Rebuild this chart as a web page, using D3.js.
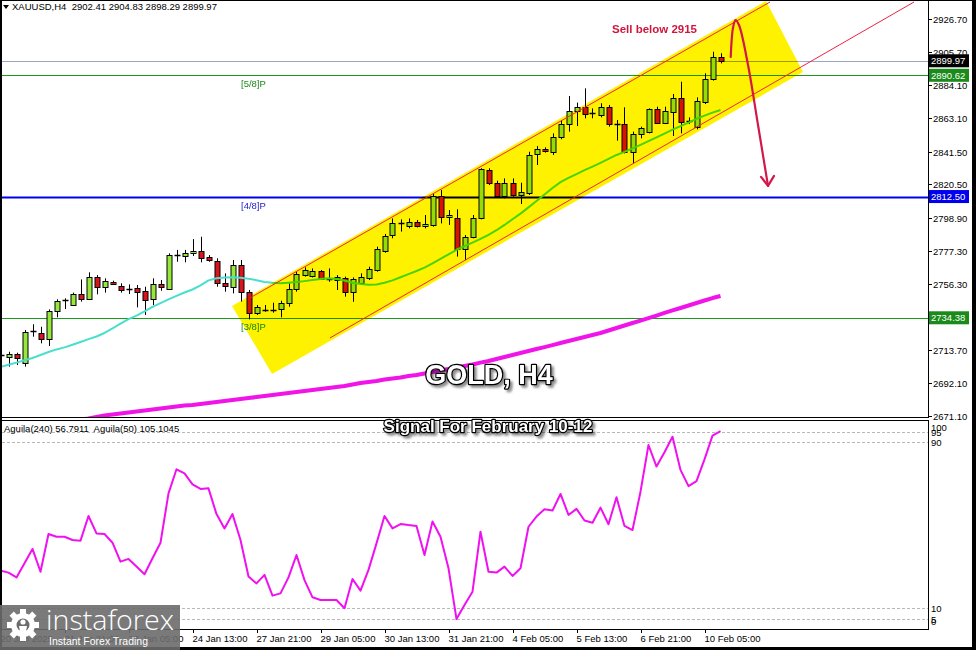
<!DOCTYPE html>
<html><head><meta charset="utf-8">
<script src="https://cdn.jsdelivr.net/npm/d3@7"></script>
<style>html,body{margin:0;padding:0;background:#000;overflow:hidden}svg{display:block;font-family:"Liberation Sans",Arial,sans-serif}</style>
</head><body><svg id="c" width="976" height="650"></svg>
<script>
// ---------- DATA ----------
const opens  = [2710.2,2708.9,2710.8,2705.4,2725.0,2724.4,2720.5,2738.7,2745.6,2742.4,2749.5,2746.7,2760.4,2754.0,2757.6,2754.9,2752.9,2753.4,2751.6,2746.3,2756.1,2752.7,2774.5,2774.2,2775.9,2777.4,2773.5,2771.0,2757.0,2754.4,2768.4,2751.2,2737.2,2739.2,2739.4,2739.8,2743.7,2752.7,2761.9,2761.5,2764.5,2759.3,2758.7,2759.8,2750.8,2757.0,2759.8,2765.1,2777.6,2787.7,2795.4,2793.7,2796.3,2793.5,2794.2,2812.8,2799.1,2798.4,2778.5,2786.6,2798.4,2829.6,2821.0,2812.8,2821.0,2813.5,2814.6,2839.7,2843.1,2841.4,2850.6,2859.0,2867.6,2870.4,2866.4,2865.0,2870.4,2859.0,2859.0,2841.4,2852.6,2854.3,2868.7,2860.1,2867.2,2875.8,2861.4,2857.1,2873.6,2888.0,2902.41];
const highs  = [2712.0,2712.5,2711.9,2726.5,2730.2,2728.6,2739.8,2746.3,2746.9,2750.6,2759.1,2763.7,2761.9,2759.8,2758.3,2756.6,2755.9,2755.5,2754.4,2759.8,2758.7,2775.9,2778.1,2778.1,2785.1,2786.6,2774.8,2772.7,2763.0,2771.6,2771.6,2752.3,2742.6,2742.6,2744.1,2745.4,2756.6,2764.1,2766.9,2766.2,2765.1,2766.2,2761.9,2760.9,2760.4,2763.0,2767.3,2780.2,2788.4,2798.4,2797.8,2798.4,2797.4,2800.6,2814.6,2816.7,2803.8,2804.3,2787.7,2800.6,2830.7,2830.7,2822.7,2824.2,2824.2,2821.4,2841.4,2845.0,2844.2,2853.2,2861.8,2877.3,2873.0,2882.2,2869.3,2872.6,2871.5,2861.8,2870.0,2854.3,2857.5,2869.3,2870.4,2870.4,2878.6,2886.5,2863.5,2876.4,2891.9,2905.8,2904.83];
const lows   = [2707.5,2702.9,2703.9,2702.9,2722.2,2717.9,2716.2,2734.7,2740.0,2742.0,2744.8,2745.8,2749.5,2750.6,2755.5,2750.6,2749.7,2741.1,2736.2,2742.6,2751.8,2752.3,2770.5,2770.1,2774.2,2770.1,2770.5,2754.4,2751.2,2750.1,2744.8,2733.4,2736.2,2738.3,2737.7,2734.7,2741.5,2751.2,2760.9,2760.4,2758.7,2757.6,2752.3,2748.0,2744.7,2756.1,2758.7,2764.1,2776.3,2785.6,2789.9,2792.0,2792.6,2792.0,2793.1,2795.2,2794.2,2773.8,2771.6,2785.6,2797.8,2819.9,2812.0,2811.3,2812.4,2807.7,2813.5,2832.8,2840.8,2839.3,2849.4,2854.3,2857.9,2862.9,2862.9,2863.5,2857.5,2848.5,2840.3,2833.9,2850.0,2853.2,2859.2,2859.2,2851.5,2853.2,2859.2,2855.8,2872.1,2887.2,2898.29];
const closes = [2710.3,2711.0,2708.2,2725.4,2725.8,2720.5,2738.7,2745.2,2745.8,2749.7,2746.7,2760.4,2754.0,2757.9,2756.1,2752.3,2753.1,2751.2,2745.8,2756.1,2754.4,2774.8,2774.8,2776.3,2777.4,2773.1,2771.4,2756.6,2754.9,2768.4,2751.2,2737.2,2741.1,2739.4,2739.2,2744.1,2752.7,2762.6,2765.1,2764.7,2759.1,2759.0,2760.4,2751.2,2759.1,2760.4,2765.6,2778.5,2787.1,2795.7,2795.1,2796.3,2793.5,2794.8,2812.8,2799.1,2800.6,2778.5,2786.6,2798.4,2830.0,2821.0,2812.8,2821.0,2813.5,2815.2,2839.3,2843.1,2841.8,2850.6,2859.2,2867.6,2870.4,2865.7,2866.5,2870.4,2859.0,2858.8,2841.4,2852.6,2856.4,2868.7,2860.1,2867.6,2875.8,2860.7,2861.2,2874.0,2888.0,2902.2,2899.97];
// fast moving average (turquoise)
const maFast = [2702.7,2704.1,2705.5,2707.0,2708.5,2710.4,2712.3,2714.0,2715.3,2717.0,2718.8,2720.6,2722.3,2724.6,2727.5,2730.6,2733.5,2735.8,2738.5,2741.4,2743.8,2746.2,2748.5,2750.7,2752.6,2755.3,2758.5,2759.8,2760.4,2760.5,2760.2,2759.5,2758.6,2757.5,2756.9,2756.7,2757.0,2757.4,2758.0,2758.7,2759.4,2759.8,2759.4,2758.4,2757.0,2756.2,2755.6,2755.8,2757.0,2758.5,2760.5,2762.5,2764.5,2766.7,2769.4,2772.3,2775.3,2778.2,2780.5,2782.8,2785.2,2787.8,2790.8,2794.2,2797.9,2801.5,2805.5,2809.6,2813.8,2818.0,2821.8,2824.5,2827.0,2829.5,2831.8,2834.2,2836.8,2839.3,2841.3,2843.5,2845.8,2848.2,2850.6,2853.1,2855.6,2857.9,2860.1,2862.6,2864.6,2866.6,2868.3];
// slow moving average (magenta), starts at candle 8
const maSlowStart = 8;
const maSlow = [2667.9,2668.5,2668.8,2669.5,2670.4,2671.4,2672.1,2672.7,2673.3,2674.0,2674.6,2675.3,2675.9,2676.6,2677.2,2677.9,2678.2,2678.8,2679.5,2680.1,2680.8,2681.4,2682.1,2682.7,2683.3,2684.0,2684.6,2685.3,2685.9,2686.6,2687.2,2687.9,2688.5,2689.1,2689.8,2690.4,2691.4,2692.4,2693.0,2693.7,2694.6,2695.3,2695.9,2696.9,2697.5,2698.5,2699.4,2700.4,2701.4,2702.3,2703.3,2704.3,2705.5,2706.5,2707.8,2709.1,2710.4,2711.7,2713.0,2714.3,2715.5,2716.8,2718.1,2719.4,2720.7,2722.0,2723.3,2724.6,2726.2,2727.8,2729.4,2731.0,2732.6,2734.2,2735.8,2737.5,2739.1,2740.7,2742.3,2743.9,2745.5,2747.1,2748.4];
// Aguila oscillator
const aguila = [28.1,27.2,24.9,31.7,38.6,27.6,45.8,44.5,44.5,42.9,42.6,54.5,46.1,45.8,41.6,32.5,33.8,30.1,26.4,34.1,41.6,65.4,77.0,75.0,69.7,67.5,67.8,55.4,48.5,55.4,42.9,25.3,22.0,26.1,16.1,17.2,24.9,35.7,23.6,15.3,14.0,14.0,14.0,10.0,24.1,18.5,28.5,41.3,54.5,48.5,50.6,50.1,49.7,35.7,51.8,44.5,29.3,4.8,11.6,18.0,46.9,27.6,27.2,30.1,25.6,29.3,49.3,54.2,57.7,57.1,65.1,55.0,57.9,52.3,51.2,58.5,50.5,63.5,49.7,47.7,66.2,88.7,78.3,85.2,92.7,76.7,68.9,71.3,81.8,93.2,95.4];
// axes
const priceTicks = [2926.70,2905.70,2884.10,2863.10,2841.50,2820.50,2798.90,2777.30,2756.30,2713.70,2692.10,2671.10];
const indTicks = [100,95,90,10,5,0];
const indLevels = [95,90,10,5];
const timeTickIdx = [0,8,16,24,32,40,48,56,64,72,80,88];
const timeTickLabels = ["20 Jan 2025","21 Jan 21:00","23 Jan 05:00","24 Jan 13:00","27 Jan 21:00","29 Jan 05:00","30 Jan 13:00","31 Jan 21:00","4 Feb 05:00","5 Feb 13:00","6 Feb 21:00","10 Feb 05:00"];
// levels
const lastPrice = 2899.97;
const levelValues = [2890.62, 2812.50, 2734.38];
const levelNames = ["[5/8]P","[4/8]P","[3/8]P"];
// channel (candle index, price)
const channelUpper = [[31.19,2747.2],[96.19,2937.85]];
const channelLower = [[41.19,2721.4],[114.19,2937.85]];
const channelBand = [[28.94,2742.0],[95.69,2938.5],[100.31,2892.7],[33.94,2698.2]];
const arrowPath = [[91.28,2902.4],[91.56,2921.1],[91.88,2926.2],[92.31,2923.0],[93.44,2897.3],[94.69,2858.6],[95.94,2819.4]];
const headerText = "XAUUSD,H4  2902.41 2904.83 2898.29 2899.97";
const indText = "Aguila(240) 56.7911  Aguila(50) 105.1045";

// ---------- SCALES ----------
const svg = d3.select("#c");
const plotL = 2, plotR = 928, mainT = 1, mainB = 417, indT = 420, indB = 629;
const x = d3.scaleLinear().domain([0, 115]).range([0.5, 920.5]);
const y = d3.scaleLinear().domain([2671.1, 2926.7]).range([416, 19.3]);
const yi = d3.scaleLinear().domain([0, 100]).range([629.05, 421.55]);
const px = i => Math.round(x(i)) + 0.5;

// background
svg.append("rect").attr("width", 976).attr("height", 650).attr("fill", "#000");
svg.append("rect").attr("x", 2).attr("y", 1).attr("width", 970).attr("height", 646).attr("fill", "#fff");

const defs = svg.append("defs");
defs.append("clipPath").attr("id", "cm").append("rect").attr("x", plotL).attr("y", mainT).attr("width", plotR - plotL).attr("height", mainB - mainT);
defs.append("clipPath").attr("id", "ci").append("rect").attr("x", plotL).attr("y", indT).attr("width", plotR - plotL).attr("height", indB - indT);
const sh = defs.append("filter").attr("id", "sh").attr("x", "-10%").attr("y", "-40%").attr("width", "125%").attr("height", "190%");
sh.append("feDropShadow").attr("dx", 2.5).attr("dy", 2.5).attr("stdDeviation", 1.3).attr("flood-color", "#000").attr("flood-opacity", 0.45);

const main = svg.append("g").attr("clip-path", "url(#cm)");

// horizontal lines
main.append("line").attr("x1", plotL).attr("x2", plotR).attr("y1", Math.round(y(lastPrice)) + 0.5).attr("y2", Math.round(y(lastPrice)) + 0.5)
  .attr("stroke", "#9aa6cc").attr("stroke-width", 1);
const levelColors = ["#1a9a1a", "#0000ee", "#1a9a1a"];
const levelWidths = [1, 2, 1];
levelValues.forEach((v, k) => {
  const yy = Math.round(y(v)) + 0.5;
  main.append("line").attr("x1", plotL).attr("x2", plotR).attr("y1", yy).attr("y2", yy)
    .attr("stroke", levelColors[k]).attr("stroke-width", levelWidths[k]);
  main.append("text").attr("x", 241).attr("y", yy + 11).attr("font-size", 9.5)
    .attr("fill", k === 1 ? "#2222cc" : "#1a8a1a").text(levelNames[k]);
});

// slow MA
const lineP = d3.line().x(d => x(d[0])).y(d => y(d[1]));
main.append("path").datum(maSlow.map((v, k) => [k + maSlowStart, v])).attr("d", lineP)
  .attr("fill", "none").attr("stroke", "#f014e8").attr("stroke-width", 4).attr("stroke-linejoin", "round");

// candles
const cg = main.append("g");
opens.forEach((o, i) => {
  const c = closes[i], cx = px(i);
  cg.append("line").attr("x1", cx).attr("x2", cx).attr("y1", y(highs[i])).attr("y2", y(lows[i])).attr("stroke", "#000").attr("stroke-width", 1);
  const top = Math.round(y(Math.max(o, c))) + 0.5, bot = Math.round(y(Math.min(o, c))) + 0.5;
  if (bot - top < 1.5) {
    cg.append("line").attr("x1", cx - 3).attr("x2", cx + 3).attr("y1", top).attr("y2", top).attr("stroke", "#000").attr("stroke-width", 1.5);
  } else {
    cg.append("rect").attr("x", cx - 2.5).attr("y", top).attr("width", 5).attr("height", bot - top)
      .attr("fill", c >= o ? "#96e83c" : "#d8141c").attr("stroke", "#000").attr("stroke-width", 1);
  }
});

// fast MA
main.append("path").datum(maFast.map((v, k) => [k, v])).attr("d", lineP)
  .attr("fill", "none").attr("stroke", "#48e0cc").attr("stroke-width", 2).attr("stroke-linejoin", "round");

// channel band (multiply, like a translucent marker)
main.append("path").datum(channelBand).attr("d", d3.line().x(d => x(d[0])).y(d => y(d[1])).curve(d3.curveLinearClosed))
  .attr("fill", "#fff200").style("mix-blend-mode", "multiply");
[channelUpper, channelLower].forEach(seg => {
  main.append("path").datum(seg).attr("d", lineP).attr("fill", "none").attr("stroke", "#ee2244").attr("stroke-width", 1);
});

// arrows
const arrowColor = "#d4174a";
main.append("path").datum(arrowPath).attr("d", d3.line().x(d => x(d[0])).y(d => y(d[1])).curve(d3.curveCatmullRom.alpha(0.5)))
  .attr("fill", "none").attr("stroke", arrowColor).attr("stroke-width", 2.2).attr("stroke-linecap", "round");
{
  const tip = arrowPath[arrowPath.length - 1];
  const tx = x(tip[0]), ty = y(tip[1]);
  main.append("path").attr("d", `M${tx - 7},${ty - 9}L${tx},${ty}L${tx + 6},${ty - 10}`)
    .attr("fill", "none").attr("stroke", arrowColor).attr("stroke-width", 2.2).attr("stroke-linecap", "round").attr("stroke-linejoin", "round");
}
main.append("text").attr("x", 612).attr("y", 33).attr("font-size", 11.5).attr("font-weight", "bold")
  .attr("fill", "#d0163e").text("Sell below 2915");

// frame of main panel
svg.append("line").attr("x1", plotR + 0.5).attr("x2", plotR + 0.5).attr("y1", 0).attr("y2", mainB + 1).attr("stroke", "#000");
svg.append("line").attr("x1", plotL).attr("x2", plotR + 1).attr("y1", mainB + 0.5).attr("y2", mainB + 0.5).attr("stroke", "#000");

// price axis
priceTicks.forEach(v => {
  const yy = Math.round(y(v)) + 0.5;
  svg.append("line").attr("x1", plotR).attr("x2", plotR + 4).attr("y1", yy).attr("y2", yy).attr("stroke", "#000");
  svg.append("text").attr("x", 933).attr("y", yy + 3.5).attr("font-size", 9.5).attr("fill", "#000").text(v.toFixed(2));
});
const tagBoxes = [[lastPrice, "#000"], [levelValues[0], "#1a8a1a"], [levelValues[1], "#0000ee"], [levelValues[2], "#1a8a1a"]];
tagBoxes.forEach(([v, col]) => {
  const yy = y(v);
  svg.append("rect").attr("x", 929).attr("y", yy - 6.5).attr("width", 40).attr("height", 13).attr("fill", col);
  svg.append("text").attr("x", 931).attr("y", yy + 3.5).attr("font-size", 9.5).attr("fill", "#fff").text(v.toFixed(2));
});

// header
svg.append("path").attr("d", "M3,5L9,5L6,9Z").attr("fill", "#000");
svg.append("text").attr("x", 12).attr("y", 10).attr("font-size", 9.5).attr("fill", "#000").attr("xml:space", "preserve").text(headerText);

// indicator panel
const ind = svg.append("g");
ind.append("rect").attr("x", plotL - 0.5).attr("y", indT + 0.5).attr("width", plotR - plotL + 1).attr("height", indB - indT).attr("fill", "none").attr("stroke", "#000");
const indG = ind.append("g").attr("clip-path", "url(#ci)");
indLevels.forEach(v => {
  const yy = Math.round(yi(v)) + 0.5;
  indG.append("line").attr("x1", plotL).attr("x2", plotR).attr("y1", yy).attr("y2", yy)
    .attr("stroke", "#b8b8b8").attr("stroke-dasharray", "3,2");
});
indG.append("path").datum(aguila.map((v, k) => [k, v]))
  .attr("d", d3.line().x(d => x(d[0])).y(d => yi(d[1])))
  .attr("fill", "none").attr("stroke", "#f010f0").attr("stroke-width", 2).attr("stroke-linejoin", "round");
indTicks.forEach(v => {
  const yy = Math.max(427, Math.min(621, yi(v) + 0.5));
  svg.append("text").attr("x", 931).attr("y", yy + 3.5).attr("font-size", 9.5).attr("fill", "#000").text(v);
});
svg.append("text").attr("x", 4).attr("y", 432).attr("font-size", 9.5).attr("fill", "#000").attr("xml:space", "preserve").text(indText);

// time axis
timeTickIdx.forEach((i, k) => {
  const xx = px(i);
  svg.append("line").attr("x1", xx).attr("x2", xx).attr("y1", indB).attr("y2", indB + 4).attr("stroke", "#000");
  svg.append("text").attr("x", xx - 1).attr("y", 642).attr("font-size", 9.5).attr("fill", "#000").text(timeTickLabels[k]);
});

// titles
function outlined(t, xx, yy, size) {
  svg.append("text").attr("x", xx).attr("y", yy).attr("font-size", size).attr("font-weight", "bold")
    .attr("text-anchor", "middle").attr("fill", "#fff").attr("stroke", "#000").attr("stroke-width", 2.4)
    .attr("paint-order", "stroke").attr("stroke-linejoin", "round").attr("filter", "url(#sh)").text(t);
}
outlined("GOLD, H4", 489, 384, 27);
outlined("Signal For February 10-12", 488, 432, 17);

// logo
const logo = svg.append("g");
logo.append("rect").attr("x", 0).attr("y", 605).attr("width", 180).attr("height", 45).attr("fill", "#6c6c6c").attr("opacity", 0.9);
const gear = logo.append("g").attr("transform", "translate(23,625)");
for (let a = 0; a < 8; a++) {
  gear.append("rect").attr("x", -3).attr("y", -16).attr("width", 6).attr("height", 8).attr("fill", "#fff").attr("transform", `rotate(${a * 45})`);
}
gear.append("circle").attr("r", 12).attr("fill", "#fff");
gear.append("circle").attr("r", 6.5).attr("fill", "#6c6c6c");
gear.append("circle").attr("cy", -3).attr("r", 2.6).attr("fill", "#fff");
gear.append("path").attr("d", "M-4,1L4,1L2,12L-2,12Z").attr("fill", "#fff");
logo.append("text").attr("x", 46).attr("y", 630).attr("font-size", 27).attr("font-family", "'Open Sans',sans-serif").attr("font-weight", 300)
  .attr("fill", "#fff").attr("textLength", 128).attr("lengthAdjust", "spacingAndGlyphs").text("instaforex");
logo.append("text").attr("x", 49).attr("y", 645).attr("font-size", 11).attr("fill", "#fff")
  .attr("textLength", 99).attr("lengthAdjust", "spacingAndGlyphs").text("Instant Forex Trading");
</script></body></html>
